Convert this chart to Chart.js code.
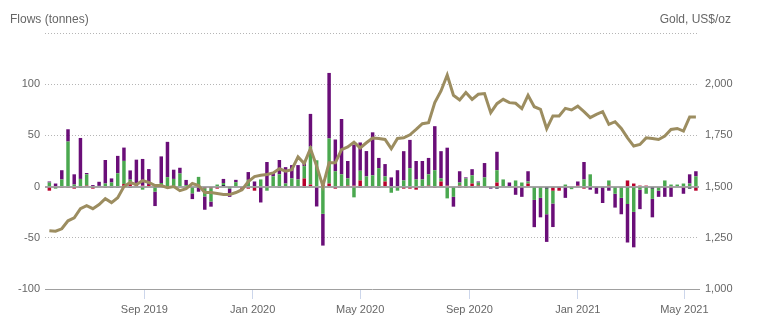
<!DOCTYPE html>
<html>
<head>
<meta charset="utf-8">
<script src="https://cdn.jsdelivr.net/npm/chart.js@4.4.1/dist/chart.umd.min.js"></script>
<style>
    body { margin: 0; background: #fff; }
    #wrap { width: 764px; height: 330px; position: relative; }
</style>
</head>
<body>
<div id="wrap"><canvas id="myChart"></canvas></div>
<script>
// weekly flows, first week ending 17 May 2019
const startDate = '2019-05-17';

const purple = [1, 3, 9, 12, 10, 40, 1.3, 1.5, 4, 23, 4, 17, 13, 9, 25, 26, 15.5, -14, 26, 34.5,
    9, 5.6, 5, -5.6, -5, -13, -5, 0, 4, -8, 2.3, 0, 7.6, 5, -15.5, 24, 4, 14, 16, 13,
    14, 3.6, 32, -19.4, -31, 64, 31, 54, 17, 40, 27.6, 24.7, 42, 10, 12, 9, 16, 28.6, 27.6, 18,
    18, 16, 43, 26.6, 37, -9.6, 11, 1, 6, 1, 14, -2, 18, 0, 4, -7, -10, 10, -26.6, -19,
    -27, -23, 0, -11, 0, 4, 17, -3, -7, -16, -4, -13.5, -16, -37.6, -34.6, -19, 0, -18, -6, -10,
    -9, 0, -6, 9, 5];
const green = [4, -1, 7, 44, 2, 7.5, 11, 0, 0.7, 3, 4, 13, 22.5, 4.5, 0, -3, 0, -5, 3.5, 9.2,
    7.5, 12.8, 1.5, -6.6, 9.5, -8, -13, 2, 2, -2, 4.3, 0, 6.6, 0, 7, -4, 10, 12, 3, 8,
    7, 12, 37, 25.7, -26.6, 44, 15, 12, 7, -10.5, 9.5, 10, 11, 18, 5, -6, -3, 6, 18, 7,
    7, 11, 16, 3, -11.5, -10, 3, 8, 8, 3, 9, 0, 12, 7, 0, 6, 4, 2, -13, -11,
    -25, -12.5, 0, 2, -2.5, 0, 7, 12, 0, 0, 5, -7, -10, -16, -24.7, -3, -7, -10, -4, 6,
    2, 2, 3, 3, 10];
const red = [-4, -1, -1, -1, -2, -1, 1, -2, 0, -1, 0, 0, 2.6, 2.3, 1.3, 1, 1.6, 0, 0, 0,
    0, 0, 0, 0, 0, -1.6, -1.6, -2, 0, 0, 0, -2.6, -2, -4, 0, 0, 0, 0, 0, 0,
    0, 8, 2, 0, 2, 3, -2, 0, 1, 1, 6, 0, 0, 0, 5, 0, 0, -2, -2, -3,
    0, 1, -1, 5, 1, 0, 1, -1, 3, 1, 0, 0, 4, 0, 0, -1, 0, 3, 0, 0,
    0, -3, -3, 0, 0, 1, -2, 0, 0, 0, 1, 0, -1, 6, 3, 1, 1, 0, 0, 0,
    -1, 0, -1, 0, -4];
const navy = [0, 0, 0, 0, 0, 0, 0, 0, 0, 0, -1, -1, 0, -1, 0, 0, 0, 0, 0, 0,
    0, 0, 0, 0, 0, 0, 0, 0, 1.5, 0, 0, 0, 0, 0, 0, 0, 0, -1, 0, 0,
    0, -1, 0, 0, 0, 0, 0, 0, 0, 0, -1, 0, 0, -1, 0, 0, -1, 0, 0, 0,
    -1, 0, 0, 0, 0, 0, -1, 0, -1, 0, 0, 0, -2, 0, 0, 0, 0, 0, 0, 0,
    -2, -1, -1, 0, 0, 0, 0, 0, 0, 0, 0, 0, 0, -1, 0, 0, 0, -2, 0, 0,
    0, 0, 0, -2, 0];
const gold = [1284, 1282, 1294, 1333, 1348, 1392, 1407, 1392, 1412, 1441, 1422, 1446, 1500, 1520, 1510, 1529, 1520, 1505, 1505, 1495,
    1500, 1480, 1490, 1515, 1505, 1471, 1471, 1466, 1461, 1461, 1471, 1485, 1525, 1549, 1555, 1559, 1567, 1587, 1575, 1583,
    1645, 1613, 1685, 1600, 1502, 1616, 1616, 1681, 1694, 1717, 1689, 1714, 1737, 1735, 1730, 1685, 1735, 1738, 1753, 1779,
    1807, 1812, 1910, 1967, 2045, 1946, 1923, 1959, 1926, 1951, 1954, 1861, 1905, 1926, 1910, 1907, 1881, 1946, 1890, 1877,
    1783, 1845, 1845, 1882, 1874, 1893, 1866, 1837, 1853, 1866, 1804, 1817, 1784, 1738, 1698, 1706, 1738, 1735, 1730, 1747,
    1779, 1784, 1771, 1840, 1840];

const tickDates = ['2019-09-01', '2020-01-01', '2020-05-01', '2020-09-01', '2021-01-01', '2021-05-01'];
const tickLabels = ['Sep 2019', 'Jan 2020', 'May 2020', 'Sep 2020', 'Jan 2021', 'May 2021'];

const weekOf = d => (new Date(d) - new Date(startDate)) / (7 * 86400000);
const tickPos = tickDates.map(weekOf);
const pts = arr => arr.map((v, i) => ({ x: i, y: v }));
const font = { family: '"Liberation Sans", Arial, sans-serif', size: 11 };

const zeroLine = {
    id: 'zeroLine',
    beforeDatasetDraw(chart, args) {
        if (args.index !== 0) return;
        const ctx = chart.ctx;
        const y = Math.round(chart.scales.y.getPixelForValue(0));
        ctx.save();
        ctx.strokeStyle = 'rgba(150,150,150,0.85)';
        ctx.lineWidth = 2;
        ctx.beginPath();
        ctx.moveTo(chart.chartArea.left, y);
        ctx.lineTo(chart.chartArea.right, y);
        ctx.stroke();
        ctx.restore();
    }
};

const titles = {
    id: 'titles',
    afterDraw(chart) {
        const ctx = chart.ctx;
        ctx.save();
        ctx.font = '12px "Liberation Sans", Arial, sans-serif';
        ctx.fillStyle = '#666';
        ctx.textBaseline = 'middle';
        ctx.textAlign = 'left';
        ctx.fillText('Flows (tonnes)', 10, 20);
        ctx.textAlign = 'right';
        ctx.fillText('Gold, US$/oz', 731, 20);
        ctx.restore();
    }
};

const ctx = document.getElementById('myChart').getContext('2d');
new Chart(ctx, {
    data: {
        datasets: [
            { type: 'line', data: pts(gold), yAxisID: 'y1', order: 0,
              borderColor: '#9c8d60', borderWidth: 3, pointRadius: 0, tension: 0 },
            { type: 'bar', data: pts(navy), yAxisID: 'y', order: 1, backgroundColor: '#1f1c3c' },
            { type: 'bar', data: pts(red), yAxisID: 'y', order: 1, backgroundColor: '#b8002c' },
            { type: 'bar', data: pts(green), yAxisID: 'y', order: 1, backgroundColor: '#4aa84f' },
            { type: 'bar', data: pts(purple), yAxisID: 'y', order: 1, backgroundColor: '#6a0e78' }
        ]
    },
    options: {
        responsive: true,
        maintainAspectRatio: false,
        animation: false,
        layout: { padding: { top: 33, left: 0, right: 0, bottom: 0 } },
        datasets: { bar: { barPercentage: 0.7, categoryPercentage: 0.8 } },
        plugins: { legend: { display: false }, tooltip: { enabled: false } },
        scales: {
            x: {
                type: 'linear',
                stacked: true,
                min: -0.7,
                max: 104.5,
                offset: false,
                afterBuildTicks: scale => { scale.ticks = tickPos.map(v => ({ value: v })); },
                afterFit: scale => { scale.height = 41; },
                ticks: {
                    autoSkip: false,
                    maxRotation: 0,
                    color: '#666',
                    font: font,
                    padding: 4,
                    callback: (v, i) => tickLabels[i]
                },
                grid: { offset: false, drawOnChartArea: false, drawTicks: true, tickLength: 10, color: '#ccd6eb' },
                border: { display: true, color: '#a0a0a0', width: 1 }
            },
            y: {
                position: 'left',
                stacked: true,
                min: -100,
                max: 150,
                afterFit: scale => { scale.width = 45; },
                ticks: {
                    stepSize: 50,
                    color: '#666',
                    font: font,
                    padding: 5,
                    callback: v => v === 150 ? '' : v
                },
                grid: {
                    drawTicks: false,
                    color: c => (c.tick.value === 0 || c.tick.value === -100) ? 'rgba(0,0,0,0)' : '#b5b5b5'
                },
                border: { display: false, dash: [1, 2] }
            },
            y1: {
                position: 'right',
                min: 1000,
                max: 2250,
                afterFit: scale => { scale.width = 65; },
                ticks: {
                    stepSize: 250,
                    color: '#666',
                    font: font,
                    padding: 6,
                    callback: v => v === 2250 ? '' : v.toLocaleString('en-US')
                },
                grid: { drawOnChartArea: false, drawTicks: false },
                border: { display: false }
            }
        }
    },
    plugins: [zeroLine, titles]
});
</script>
</body>
</html>
